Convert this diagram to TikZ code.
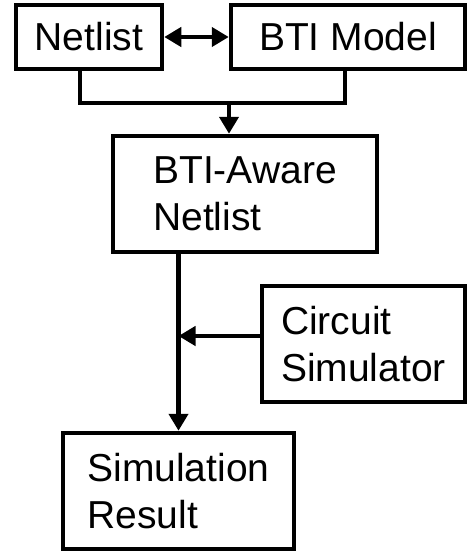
\documentclass[tikz,border=0pt]{standalone}
\usepackage{fontspec}
\setmainfont{Liberation Sans}
\usetikzlibrary{arrows.meta}

\begin{document}
\begin{tikzpicture}[x=1pt, y=-1pt, line width=4.5pt,
        every node/.style = {shape=rectangle, draw, align=left, inner sep=0pt,
                             font=\fontsize{39}{47}\selectfont},
        flow/.style = {-{Triangle[length=17pt,width=19pt]}},
        both/.style = {{Triangle[length=17pt,width=19pt]}-{Triangle[length=17pt,width=19pt]}}]
    \useasboundingbox (0,0) rectangle (467,552);
    \node[minimum width=146pt, minimum height=64pt] (netlist) at (89,37) {Netlist};
    \node[minimum width=234pt, minimum height=64pt] (btimodel) at (348,37) {BTI Model};
    \node[minimum width=264pt, minimum height=116pt] (aware) at (245,194) {BTI-Aware\\Netlist};
    \node[minimum width=203pt, minimum height=116pt] (circuit) at (363.5,344) {Circuit\\Simulator};
    \node[minimum width=231pt, minimum height=116pt] (result) at (178.5,491) {Simulation\\Result};
    \coordinate (merge) at (229,103);

    \draw[both] (netlist) -- (btimodel);
    \draw ([xshift=-9pt]netlist.south) |- (merge) -| ([xshift=-3pt]btimodel.south);
    \draw[flow] (merge) -- (merge |- aware.north);
    \draw[flow] (aware.south -| result.north) -- (result);
    \draw[flow] ([yshift=8pt]circuit.west) -- ([yshift=8pt]circuit.west -| result.north);
\end{tikzpicture}
\end{document}
